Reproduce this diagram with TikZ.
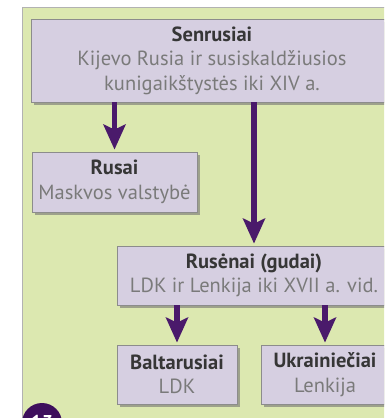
\documentclass[tikz,border=0pt]{standalone}
\usepackage{fontspec}
\setmainfont{PT Sans}
\usetikzlibrary{shadows,arrows.meta}
\definecolor{panelgreen}{HTML}{DCE8B0}
\definecolor{boxlav}{HTML}{D6CFE1}
\definecolor{arrowpurple}{HTML}{4A1A6B}
\definecolor{circpurple}{HTML}{3D0F5C}
\definecolor{titlegray}{HTML}{363636}
\definecolor{subgray}{HTML}{7A7A7A}
\tikzset{
  famebox/.style={draw=black!45, line width=0.8pt, fill=boxlav, inner sep=0pt,
    align=center, font=\fontsize{20.5}{24.5}\selectfont,
    drop shadow={shadow xshift=2.5pt, shadow yshift=-2.5pt, fill=black!55, opacity=0.6}},
  arr/.style={draw=arrowpurple, line width=5.5pt,
    -{Stealth[width=22pt,length=25pt,inset=5pt]}, shorten >=2pt}
}
\newcommand{\ttl}[1]{\textcolor{titlegray}{\bfseries #1}}
\newcommand{\sbt}[1]{\textcolor{subgray}{#1}}
\begin{document}
\begin{tikzpicture}[x=1pt,y=-1pt]
\useasboundingbox (0,0) rectangle (384,418);
\clip (0,0) rectangle (384,418);
\fill[white] (0,0) rectangle (384,418);
\draw[draw=black!30, line width=1pt, fill=panelgreen] (22,7) rectangle (420,440);
\node[famebox, minimum width=362pt, minimum height=83pt] (top) at (212,60.5)
  {\ttl{Senrusiai}\\\sbt{Kijevo Rusia ir susiskaldžiusios}\\\sbt{kunigaikštystės iki XIV a.}};
\node[famebox, minimum width=165pt, minimum height=60pt] (rusai) at (114.5,182)
  {\ttl{Rusai}\\\sbt{Maskvos valstybė}};
\node[famebox, minimum width=274pt, minimum height=59pt] (rusenai) at (254,275.5)
  {\ttl{Rusėnai (gudai)}\\\sbt{LDK ir Lenkija iki XVII a. vid.}};
\node[famebox, minimum width=120pt, minimum height=59pt] (balt) at (177,374.5)
  {\ttl{Baltarusiai}\\\sbt{LDK}};
\node[famebox, minimum width=128pt, minimum height=59pt] (ukr) at (325,374.5)
  {\ttl{Ukrainiečiai}\\\sbt{Lenkija}};
\draw[arr] (top.south -| rusai.north) -- (rusai.north);
\draw[arr] (top.south -| rusenai.north) -- (rusenai.north);
\draw[arr] (rusenai.south -| balt.north) -- (balt.north);
\draw[arr] (rusenai.south -| ukr.north) -- (ukr.north);
\node[circle, fill=circpurple, minimum size=40pt, inner sep=0pt, text=white,
  font=\fontsize{20}{20}\selectfont\bfseries] (num) at (42,423) {13};
\end{tikzpicture}
\end{document}
